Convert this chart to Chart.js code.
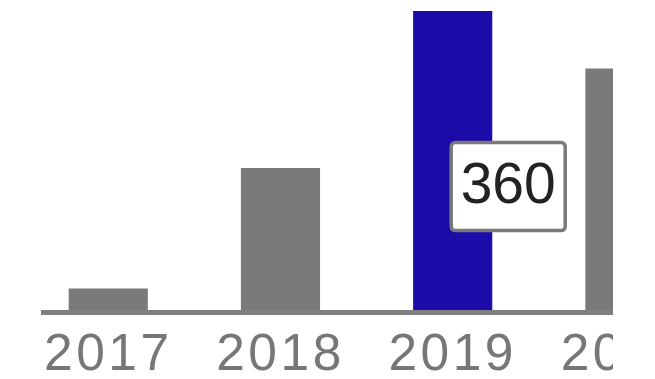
<!DOCTYPE html>
<html>
<head>
<meta charset="utf-8">
<script src="https://cdn.jsdelivr.net/npm/chart.js@4/dist/chart.umd.min.js"></script>
<style>
  html, body { margin: 0; padding: 0; background: #ffffff; }
  #frame { position: relative; width: 613px; height: 379px; overflow: hidden; }
  #wrap { position: absolute; left: 0; top: 0; width: 700px; height: 400px; }
</style>
</head>
<body>
<div id="frame"><div id="wrap"><canvas id="c"></canvas></div></div>
<script>
// Yearly totals
const years = [2017, 2018, 2019, 2020];
const values = [28, 172, 360, 291];
const highlightIndex = 2;

const GRAY = '#7a7a7a';
const BLUE = '#1b0ba8';

const barColors = years.map((y, i) => i === highlightIndex ? BLUE : GRAY);

// Wider tracking for the year labels
const trackingPlugin = {
  id: 'tracking',
  beforeDraw(chart) { chart.ctx.letterSpacing = '3.5px'; },
  afterDraw(chart) { chart.ctx.letterSpacing = '0px'; }
};

// Callout box with the value of the highlighted bar
const calloutPlugin = {
  id: 'callout',
  afterDraw(chart) {
    const meta = chart.getDatasetMeta(0);
    const bar = meta.data[highlightIndex];
    if (!bar) return;
    const ctx = chart.ctx;
    const w = 114, h = 88;
    const left = bar.x - 1.5;
    const cy = bar.base - 0.417 * (bar.base - bar.y);
    const top = cy - h / 2;
    ctx.save();
    ctx.letterSpacing = '0px';
    ctx.beginPath();
    ctx.roundRect(left, top, w, h, 4);
    ctx.fillStyle = '#ffffff';
    ctx.fill();
    ctx.lineWidth = 3.5;
    ctx.strokeStyle = '#7a7a7a';
    ctx.stroke();
    ctx.fillStyle = '#222222';
    ctx.font = '57px "Liberation Sans", Arial, sans-serif';
    ctx.textAlign = 'center';
    ctx.textBaseline = 'middle';
    ctx.fillText(String(values[highlightIndex]), left + w / 2, cy + 1);
    ctx.restore();
  }
};

new Chart(document.getElementById('c'), {
  type: 'bar',
  data: {
    datasets: [{
      data: years.map((y, i) => ({ x: y, y: values[i] })),
      backgroundColor: barColors,
      borderWidth: 0,
      barThickness: 78.5
    }]
  },
  options: {
    responsive: true,
    maintainAspectRatio: false,
    animation: false,
    layout: { padding: { top: 11, left: 43, right: 0, bottom: 0 } },
    plugins: { legend: { display: false }, tooltip: { enabled: false } },
    scales: {
      x: {
        type: 'linear',
        offset: false,
        min: 2016.621,
        max: 2020.436,
        afterBuildTicks: (scale) => { scale.ticks = years.map(v => ({ value: v })); },
        grid: { display: false, drawTicks: false, offset: false },
        border: { display: true, color: '#7f7f7f', width: 5, z: 1 },
        ticks: {
          color: '#777777',
          padding: 13,
          maxRotation: 0,
          autoSkip: false,
          font: { family: '"Liberation Sans", Arial, sans-serif', size: 51.5 },
          callback: (v) => String(v)
        }
      },
      y: {
        display: false,
        min: 0,
        max: 360
      }
    }
  },
  plugins: [trackingPlugin, calloutPlugin]
});
</script>
</body>
</html>
